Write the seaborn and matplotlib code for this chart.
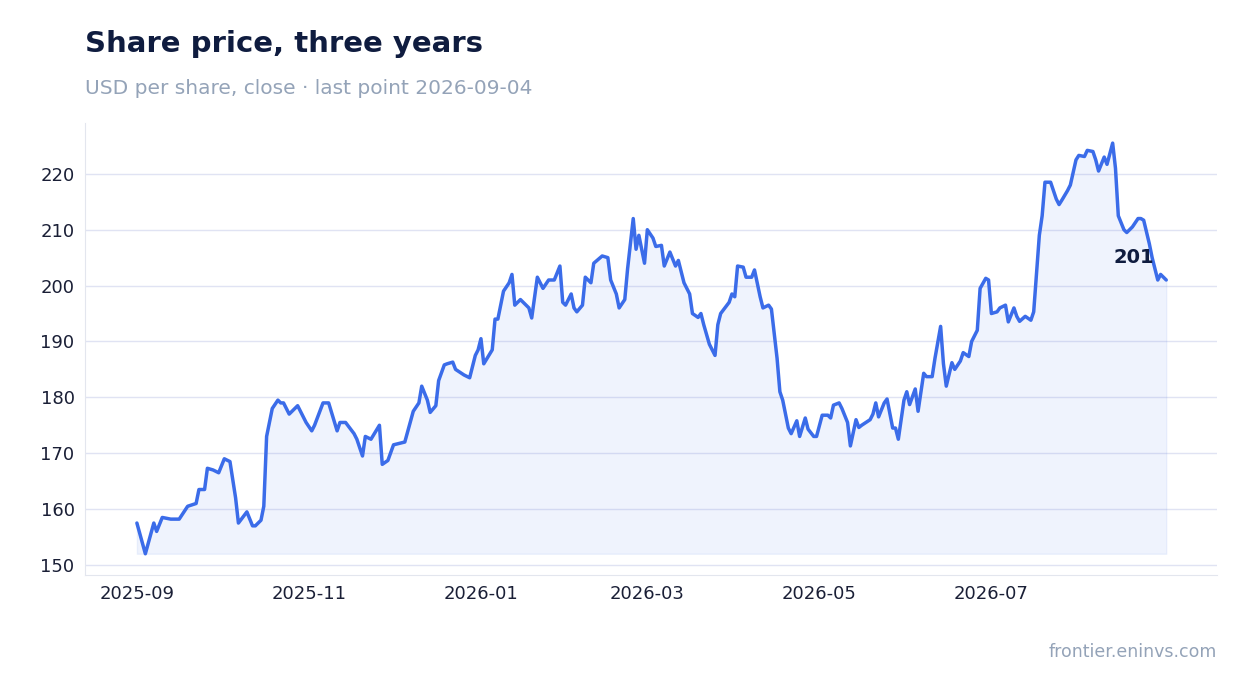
import pandas as pd
import matplotlib.pyplot as plt
import seaborn as sns

start = pd.Timestamp("2025-09-01")
day_offsets = [0, 3, 6, 7, 9, 12, 15, 18, 21, 22, 24, 25, 27, 29, 31, 33, 35, 36, 39, 41, 42, 44, 45, 46, 48,
               50, 51, 52, 54, 57, 60, 62, 63, 66, 68, 71, 72, 74, 77, 78, 80, 81, 83, 86, 87, 89, 91, 95,
               98, 100, 101, 103, 104, 106, 107, 109, 110, 112, 113, 116, 118, 120, 121, 122, 123, 126, 127,
               128, 130, 132, 133, 134, 136, 138, 139, 140, 142, 144, 146, 148, 150, 151, 152, 154, 155, 156,
               158, 159, 161, 162, 165, 167, 168, 170, 171, 173, 174, 176, 177, 178, 180, 181, 183, 184, 186,
               187, 189, 191, 192, 194, 196, 197, 199, 200, 201, 203, 205, 206, 207, 210, 211, 212, 213, 215,
               216, 218, 219, 221, 222, 224, 225, 227, 228, 229, 231, 232, 234, 235, 237, 238, 240, 241, 243,
               245, 246, 247, 249, 250, 252, 253, 255, 256, 257, 260, 261, 262, 263, 265, 266, 268, 269, 270,
               272, 273, 274, 276, 277, 279, 280, 282, 283, 285, 286, 287, 289, 290, 292, 293, 295, 296, 298,
               299, 301, 302, 303, 305, 306, 308, 309, 311, 312, 313, 315, 317, 318, 320, 321, 322, 324, 326,
               327, 328, 330, 331, 333, 334, 336, 337, 339, 340, 341, 343, 344, 346, 347, 348, 350, 351, 353,
               355, 356, 357, 359, 360, 362, 363, 365]
prices = [157.5, 152, 157.5, 156, 158.5, 158.2, 158.2, 160.5, 161, 163.5, 163.5, 167.3, 167, 166.5, 169, 168.5,
          162, 157.5, 159.5, 157, 157, 158, 160.5, 173, 178, 179.5, 179, 179, 177, 178.5, 175.5, 174, 175,
          179, 179, 174, 175.5, 175.5, 173.5, 172.5, 169.5, 173, 172.5, 175, 168, 168.7, 171.5, 172, 177.5,
          179, 182, 179.5, 177.3, 178.5, 183, 185.8, 186, 186.3, 185, 184, 183.5, 187.5, 188.5, 190.5, 186,
          188.5, 194, 194, 199, 200.5, 202, 196.5, 197.5, 196.5, 196, 194.2, 201.5, 199.5, 201, 201, 203.5,
          197, 196.5, 198.5, 196, 195.3, 196.5, 201.5, 200.5, 204, 205.3, 205, 201, 198.5, 196, 197.5, 203,
          212, 206.5, 209, 204, 210, 208.5, 207, 207.2, 203.5, 206, 203.5, 204.5, 200.5, 198.5, 195, 194.3,
          195, 193, 189.5, 187.5, 193, 195, 197, 198.5, 198, 203.5, 203.3, 201.5, 201.5, 202.8, 198, 196,
          196.5, 195.8, 187, 181, 179.5, 174.5, 173.5, 175.8, 173, 176.3, 174.3, 173, 173, 176.8, 176.8,
          176.3, 178.6, 179, 178, 175.5, 171.3, 176, 174.6, 175, 176, 177, 179, 176.5, 179, 179.7, 174.5,
          174.5, 172.5, 179.5, 181, 178.7, 181.5, 177.5, 184.3, 183.7, 183.7, 187, 192.7, 186, 182, 186.2,
          185, 186.5, 188, 187.3, 190, 192, 199.5, 201.3, 201, 195, 195.3, 196, 196.5, 193.5, 196, 194.5,
          193.6, 194.5, 193.8, 195.3, 209, 212.5, 218.5, 218.5, 215.5, 214.5, 215.3, 217, 218, 222.5, 223.3,
          223.1, 224.2, 224, 222.5, 220.5, 223, 221.7, 225.5, 221, 212.5, 210, 209.5, 210.5, 212, 212, 211.7,
          207.5, 205, 201, 202, 201]

df = pd.DataFrame({"date": start + pd.to_timedelta(day_offsets, unit="D"), "price": prices})

sns.set_style("white")
plt.rcParams['font.family'] = ['DejaVu Sans']

fig = plt.figure(figsize=(12.47, 6.93), dpi=100)
ax = fig.add_axes([85 / 1247, 118 / 693, 1132 / 1247, 452 / 693])

line_c = "#3b6ce9"
sns.lineplot(data=df, x="date", y="price", ax=ax, color=line_c, linewidth=2.5)
base = min(prices)
ax.fill_between(df["date"], base, df["price"], color=line_c, alpha=0.08)

ax.set_ylim(148.2, 229.1)
ax.set_xlim(start - pd.Timedelta(days=18.4), start + pd.Timedelta(days=383))
ax.set_yticks([150, 160, 170, 180, 190, 200, 210, 220])
ticks = pd.to_datetime(["2025-09-01", "2025-11-01", "2026-01-01", "2026-03-01", "2026-05-01", "2026-07-01"])
ax.set_xticks(ticks)
ax.set_xticklabels([t.strftime("%Y-%m") for t in ticks])
ax.grid(axis="y", color="#e0e3f3", linewidth=1)
ax.set_xlabel("")
ax.set_ylabel("")
for s in ["top", "right"]:
    ax.spines[s].set_visible(False)
for s in ["left", "bottom"]:
    ax.spines[s].set_color("#e3e6ee")
ax.tick_params(axis="both", labelsize=13, colors="#1a1f36", length=4, color="#e3e6ee")

ax.annotate(f"{prices[-1]:.0f}", (df["date"].iloc[-1], prices[-1]), xytext=(-12, 22),
            textcoords="offset pixels", ha="right", va="center", fontsize=14, fontweight="bold",
            color="#0f1c3f")

fig.text(85 / 1247, 1 - 44 / 693, "Share price, three years", fontsize=21, fontweight="bold",
         color="#0f1c3f", va="center")
fig.text(85 / 1247, 1 - 88 / 693, "USD per share, close · last point 2026-09-04", fontsize=14.5,
         color="#94a3b8", va="center")
fig.text(1217 / 1247, 1 - 652 / 693, "frontier.eninvs.com", fontsize=12.5, color="#94a3b8",
         ha="right", va="center")

fig.savefig("out.png", dpi=100)
